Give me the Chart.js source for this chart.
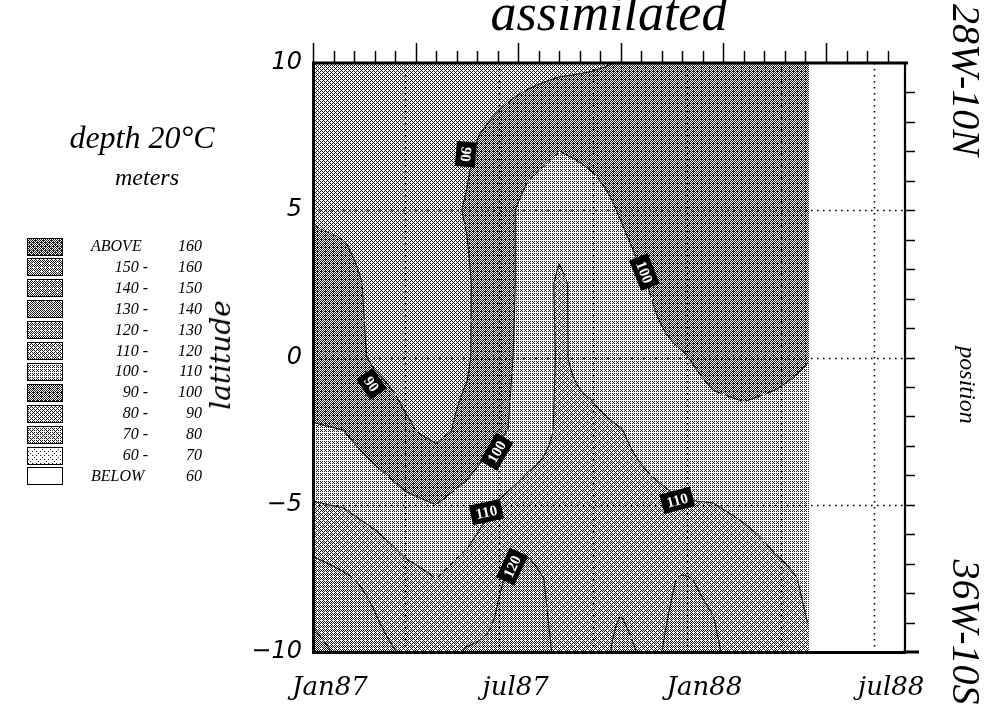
<!DOCTYPE html>
<html>
<head>
<meta charset="utf-8">
<title>depth 20°C assimilated</title>
<script src="https://cdn.jsdelivr.net/npm/chart.js@4.4.1/dist/chart.umd.min.js"></script>
<style>
  html, body { margin: 0; padding: 0; background: #fff; }
  #wrap { position: relative; width: 992px; height: 709px; overflow: hidden; }
  #wrap canvas { position: absolute; left: 0; top: 0; }
  .txt { position: absolute; white-space: nowrap; color: #000; font-style: italic; line-height: 1; }
  .box { position: absolute; border: 1px solid #000; box-sizing: border-box; }
</style>
</head>
<body>
<div id="wrap"><canvas id="chart" width="992" height="709"></canvas></div>
<script>
// --- data ----------------------------------------------------------------
// time axis in days since 1 Jan 1987, latitude rows from 10N to 10S
const days = [0, 30, 60, 90, 120, 150, 180, 210, 240, 270, 300, 330, 360, 390, 420, 450, 483];
const lats = [10, 7.5, 5, 2.5, 0, -2.5, -5, -7.5, -10];

// depth of the 20°C isotherm (m), one array per latitude row
const lat10   = [84, 84, 83, 83, 84, 85, 86, 87, 88, 89, 90.3, 92, 94, 95, 96, 96, 96];
const lat7_5  = [85, 85, 84, 84, 86, 88.8, 92, 95.5, 98.5, 97.5, 96.5, 96, 96, 96, 96, 96, 96];
const lat5    = [89, 88, 86, 86, 87.5, 90.5, 96, 103, 106, 103, 99.5, 96, 95, 95, 95, 95, 95];
const lat2_5  = [94, 93, 88, 86, 86, 89, 96, 103, 111.5, 106, 103, 99.5, 95, 94, 94, 94, 94];
const lat0    = [94, 93, 89, 87, 87, 89, 97, 103, 111, 107.5, 104, 102, 100.5, 98, 97, 98, 99.8];
const latS2_5 = [100.8, 100.1, 95, 91, 88, 92, 98, 104, 111.5, 112, 110.3, 107, 104, 102.5, 102, 102.5, 103];
const latS5   = [110.5, 109.5, 106, 102, 100, 104, 110.8, 115, 114, 114, 113, 112, 110.5, 110.2, 108, 106, 105.5];
const latS7_5 = [124, 121, 118, 113, 110, 114, 119.5, 122, 118, 119, 119, 118, 120.5, 119, 116, 112, 109];
const latS10  = [133, 128, 122.5, 119, 117.5, 120.5, 121, 123, 119, 118, 121, 119, 122, 121, 117, 113.5, 110.5];
const depthRows = [lat10, lat7_5, lat5, lat2_5, lat0, latS2_5, latS5, latS7_5, latS10];

const levels = [60, 70, 80, 90, 100, 110, 120, 130, 140, 150, 160];
const contourLevels = [90, 100, 110, 120, 130];
const legendFrom = ['ABOVE', '150 -', '140 -', '130 -', '120 -', '110 -', '100 -', '90 -', '80 -', '70 -', '60 -', 'BELOW'];
const legendTo = ['160', '160', '150', '140', '130', '120', '110', '100', '90', '80', '70', '60'];

const tickDays = [0, 181, 365, 547];
const tickNames = ['Jan87', 'jul87', 'Jan88', 'jul88'];
const gridDays = [90, 181, 273, 365, 456, 547];
const gridLats = [5, 0, -5];

// contour labels as printed on the map
const labelText = ['90', '100', '90', '100', '110', '120', '110'];
const labelDay = [149, 323, 57, 179, 169, 194, 355];
const labelLat = [6.9, 2.9, -0.9, -3.2, -5.25, -7.1, -4.85];
const labelAngle = [95, 68, 55, -60, -12, -65, -15];

// share of white in each class, class 0 = below 60 ... class 11 = above 160
const shades = [1.0, 0.9, 0.66, 0.62, 0.46, 0.69, 0.6, 0.56, 0.52, 0.54, 0.55, 0.4];

const X_MAX = 577;
const DATA_END = days[days.length - 1];

// --- helpers -------------------------------------------------------------
function depthAt(d, l) {
  let i = 0;
  while (i < days.length - 2 && d > days[i + 1]) i++;
  let j = 0;
  while (j < lats.length - 2 && l < lats[j + 1]) j++;
  const tx = Math.min(1, Math.max(0, (d - days[i]) / (days[i + 1] - days[i])));
  const ty = Math.min(1, Math.max(0, (lats[j] - l) / (lats[j] - lats[j + 1])));
  const r0 = depthRows[j], r1 = depthRows[j + 1];
  const v0 = r0[i] + (r0[i + 1] - r0[i]) * tx;
  const v1 = r1[i] + (r1[i + 1] - r1[i]) * tx;
  return v0 + (v1 - v0) * ty;
}

function classOf(v) {
  let k = 0;
  while (k < levels.length && v >= levels[k]) k++;
  return k;
}

function bayer(n) {
  let m = [[0]];
  while (m.length < n) {
    const s = m.length, r = [];
    for (let y = 0; y < 2 * s; y++) {
      r.push([]);
      for (let x = 0; x < 2 * s; x++) {
        const q = [[0, 2], [3, 1]][Math.floor(y / s)][Math.floor(x / s)];
        r[y].push(m[y % s][x % s] * 4 + q);
      }
    }
    m = r;
  }
  return m;
}
const B8 = bayer(8);

// small dithered tile, looks like the halftone of the print
function ditherTile(white) {
  const c = document.createElement('canvas');
  c.width = 8; c.height = 8;
  const g = c.getContext('2d');
  const img = g.createImageData(8, 8);
  for (let y = 0; y < 8; y++) {
    for (let x = 0; x < 8; x++) {
      const on = (B8[y][x] + 0.5) / 64 < white;
      const p = (y * 8 + x) * 4;
      const c8 = on ? 255 : 25;
      img.data[p] = img.data[p + 1] = img.data[p + 2] = c8;
      img.data[p + 3] = 255;
    }
  }
  g.putImageData(img, 0, 0);
  return c;
}
const tiles = shades.map(ditherTile);

// --- the field, contours and frame, drawn through the chart scales -------
const fieldPlugin = {
  id: 'field',
  beforeDraw(chart) {
    const ctx = chart.ctx;
    const xs = chart.scales.x, ys = chart.scales.y;
    const px = v => xs.getPixelForValue(v);
    const py = v => ys.getPixelForValue(v);

    // 1. shaded classes
    const dStep = 1, lStep = 0.04, nL = Math.round(20 / lStep);
    const paths = shades.map(() => new Path2D());
    for (let d = 0; d < DATA_END; d += dStep) {
      const d1 = Math.min(d + dStep, DATA_END);
      const x0 = Math.round(px(d)), x1 = Math.round(px(d1));
      const dm = (d + d1) / 2;
      let runStart = 0, runK = classOf(depthAt(dm, -10 + lStep / 2));
      for (let j = 1; j <= nL; j++) {
        const k = j < nL ? classOf(depthAt(dm, -10 + (j + 0.5) * lStep)) : -1;
        if (k !== runK) {
          const yb = Math.round(py(-10 + runStart * lStep));
          const yt = Math.round(py(-10 + j * lStep));
          paths[runK].rect(x0, yt, x1 - x0, yb - yt);
          runStart = j; runK = k;
        }
      }
    }
    ctx.save();
    paths.forEach((p, k) => {
      ctx.fillStyle = ctx.createPattern(tiles[k], 'repeat');
      ctx.fill(p);
    });
    ctx.restore();

    // 2. dotted grid
    ctx.save();
    ctx.strokeStyle = '#000';
    ctx.lineWidth = 1.6;
    ctx.setLineDash([1.6, 4.4]);
    ctx.beginPath();
    gridDays.forEach(d => {
      const x = Math.round(px(d)) + 0.5;
      ctx.moveTo(x, chart.chartArea.top); ctx.lineTo(x, chart.chartArea.bottom);
    });
    gridLats.forEach(l => {
      const y = Math.round(py(l)) + 0.5;
      ctx.moveTo(chart.chartArea.left, y); ctx.lineTo(chart.chartArea.right, y);
    });
    ctx.stroke();
    ctx.restore();

    // 3. contour lines (marching squares on a fine sampling of the field)
    const cd = 2, cl = 0.05;
    const nx = Math.floor(DATA_END / cd) + 1, ny = Math.round(20 / cl) + 1;
    const gx = [], gy = [];
    for (let i = 0; i < nx; i++) gx.push(Math.min(i * cd, DATA_END));
    for (let j = 0; j < ny; j++) gy.push(-10 + j * cl);
    const pxs = gx.map(px), pys = gy.map(py);
    const val = new Float32Array(nx * ny);
    for (let i = 0; i < nx; i++) for (let j = 0; j < ny; j++) val[i * ny + j] = depthAt(gx[i], gy[j]);
    ctx.save();
    ctx.strokeStyle = '#111';
    ctx.lineWidth = 1.1;
    contourLevels.forEach(lev => {
      ctx.beginPath();
      for (let i = 0; i < nx - 1; i++) {
        for (let j = 0; j < ny - 1; j++) {
          const c = [[i, j], [i + 1, j], [i + 1, j + 1], [i, j + 1]];
          const v = c.map(([a, b]) => val[a * ny + b]);
          const pts = [];
          for (let e = 0; e < 4; e++) {
            const a = e, b = (e + 1) % 4;
            if ((v[a] - lev) * (v[b] - lev) < 0) {
              const t = (lev - v[a]) / (v[b] - v[a]);
              pts.push([
                pxs[c[a][0]] + (pxs[c[b][0]] - pxs[c[a][0]]) * t,
                pys[c[a][1]] + (pys[c[b][1]] - pys[c[a][1]]) * t
              ]);
            }
          }
          if (pts.length >= 2) { ctx.moveTo(pts[0][0], pts[0][1]); ctx.lineTo(pts[1][0], pts[1][1]); }
          if (pts.length === 4) { ctx.moveTo(pts[2][0], pts[2][1]); ctx.lineTo(pts[3][0], pts[3][1]); }
        }
      }
      ctx.stroke();
    });
    ctx.restore();

    // 4. contour labels
    ctx.save();
    ctx.font = 'bold 15px "Liberation Serif", serif';
    ctx.textAlign = 'center';
    ctx.textBaseline = 'middle';
    labelText.forEach((t, n) => {
      ctx.save();
      ctx.translate(px(labelDay[n]), py(labelLat[n]));
      ctx.rotate(labelAngle[n] * Math.PI / 180);
      const w = ctx.measureText(t).width + 10;
      ctx.fillStyle = '#000';
      ctx.fillRect(-w / 2, -10, w, 20);
      ctx.fillStyle = '#fff';
      ctx.fillText(t, 0, 1);
      ctx.restore();
    });
    ctx.restore();
  },
  afterDraw(chart) {
    const ctx = chart.ctx;
    const { left, right, top, bottom } = chart.chartArea;
    const xs = chart.scales.x, ys = chart.scales.y;
    ctx.save();
    ctx.strokeStyle = '#000';
    // top and right frame
    ctx.lineWidth = 3;
    ctx.beginPath(); ctx.moveTo(left - 1, top); ctx.lineTo(right + 3, top); ctx.stroke();
    ctx.lineWidth = 2.2;
    ctx.beginPath(); ctx.moveTo(right, top); ctx.lineTo(right, bottom); ctx.stroke();
    ctx.lineWidth = 3;
    ctx.beginPath(); ctx.moveTo(right - 2, bottom); ctx.lineTo(right + 14, bottom); ctx.stroke();
    // ticks along the top, every 20 days, longer every 100
    ctx.lineWidth = 1.5;
    ctx.beginPath();
    for (let d = 0; d < X_MAX; d += 20) {
      const x = Math.round(xs.getPixelForValue(d)) + 0.5;
      const len = d % 100 === 0 ? 20 : 12;
      ctx.moveTo(x, top); ctx.lineTo(x, top - len);
    }
    // ticks on the right, every degree
    for (let l = -9; l <= 9; l++) {
      const y = Math.round(ys.getPixelForValue(l)) + 0.5;
      ctx.moveTo(right, y); ctx.lineTo(right + 10, y);
    }
    ctx.stroke();
    ctx.restore();
  }
};

const gridPoints = [];
days.forEach((d, i) => lats.forEach((l, j) => gridPoints.push({ x: d, y: l, v: depthRows[j][i] })));

new Chart(document.getElementById('chart'), {
  type: 'scatter',
  data: { datasets: [{ data: gridPoints, pointRadius: 0, pointHoverRadius: 0 }] },
  options: {
    responsive: false,
    animation: false,
    layout: { padding: { top: 63, right: 87, left: 0, bottom: 0 } },
    plugins: { legend: { display: false }, tooltip: { enabled: false } },
    scales: {
      x: {
        type: 'linear', min: 0, max: X_MAX,
        afterBuildTicks: s => { s.ticks = tickDays.map(v => ({ value: v })); },
        afterFit: s => { s.height = 57; },
        ticks: {
          callback: v => tickNames[tickDays.indexOf(v)],
          font: { family: 'DejaVu Serif', style: 'italic', size: 26 },
          color: '#000', padding: 21, labelOffset: 17, maxRotation: 0, autoSkip: false
        },
        grid: { display: false, drawTicks: false },
        border: { display: true, color: '#000', width: 3 }
      },
      y: {
        min: -10, max: 10,
        afterFit: s => { s.width = 313; },
        ticks: {
          stepSize: 5,
          callback: v => String(v).replace('-', '\u2212'),
          font: { family: 'DejaVu Sans', style: 'italic', size: 24 },
          color: '#000', padding: 11
        },
        grid: { display: false, drawTicks: false },
        border: { display: true, color: '#000', width: 3 }
      }
    }
  },
  plugins: [fieldPlugin]
});

// --- texts around the chart ----------------------------------------------
const wrap = document.getElementById('wrap');
function addText(txt, o) {
  const el = document.createElement('div');
  el.className = 'txt';
  el.textContent = txt;
  el.style.fontFamily = o.family;
  el.style.fontSize = o.size + 'px';
  if (o.rotate) {
    el.style.left = o.x + 'px';
    el.style.top = o.y + 'px';
    el.style.transform = 'translate(-50%,-50%) rotate(' + o.rotate + 'deg)';
  } else {
    el.style.top = (o.base - o.size * 0.84) + 'px';
    if (o.align === 'right') el.style.right = (992 - o.x) + 'px';
    else if (o.align === 'center') { el.style.left = (o.x - 200) + 'px'; el.style.width = '400px'; el.style.textAlign = 'center'; }
    else el.style.left = o.x + 'px';
  }
  wrap.appendChild(el);
  return el;
}
const SERIF = '"Liberation Serif", "Times New Roman", serif';
const HERSHEY = '"DejaVu Serif", serif';

addText('assimilated', { family: SERIF, size: 52, x: 609, base: 31, align: 'center' });
addText('depth 20°C', { family: SERIF, size: 32, x: 142, base: 148, align: 'center' });
addText('meters', { family: SERIF, size: 24, x: 147, base: 185, align: 'center' });
addText('latitude', { family: HERSHEY, size: 28, x: 221, y: 355, rotate: -90 });
addText('28W-10N', { family: SERIF, size: 40, x: 966, y: 80, rotate: 90 });
addText('position', { family: SERIF, size: 24, x: 968, y: 385, rotate: 90 });
addText('36W-10S', { family: SERIF, size: 40, x: 966, y: 632, rotate: 90 });

legendFrom.forEach((t, i) => {
  const cy = 246 + i * 20.9;
  const box = document.createElement('div');
  box.className = 'box';
  box.style.left = '27px';
  box.style.top = (cy - 8.5) + 'px';
  box.style.width = '36px';
  box.style.height = '18px';
  box.style.backgroundImage = 'url(' + tiles[shades.length - 1 - i].toDataURL() + ')';
  wrap.appendChild(box);
  const edge = t === 'ABOVE' || t === 'BELOW';
  addText(t, { family: SERIF, size: 16, x: edge ? 91 : 148, base: cy + 5.5, align: edge ? 'left' : 'right' });
  addText(legendTo[i], { family: SERIF, size: 16, x: 202, base: cy + 5.5, align: 'right' });
});
</script>
</body>
</html>
